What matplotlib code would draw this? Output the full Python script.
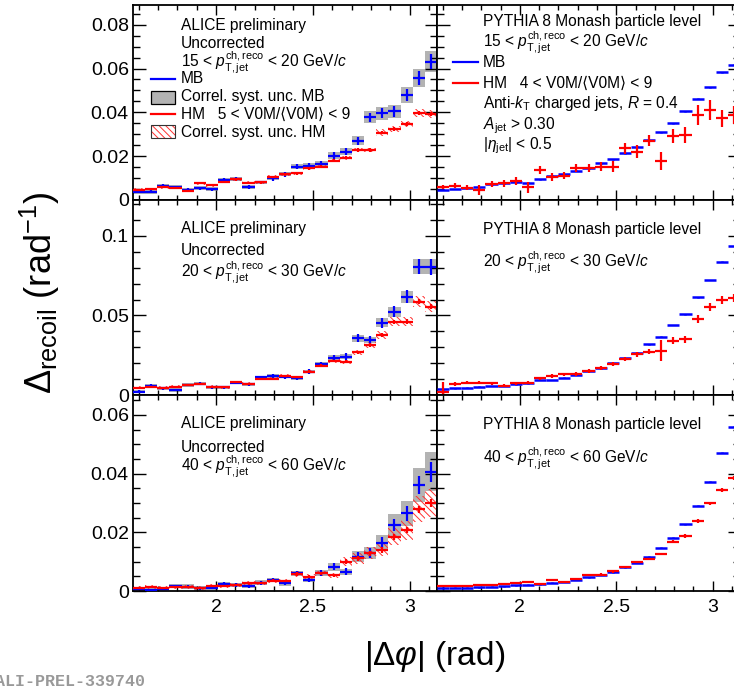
import numpy as np
import matplotlib
matplotlib.use("Agg")
import matplotlib.pyplot as plt
from matplotlib.patches import Rectangle
from matplotlib.lines import Line2D
from matplotlib.ticker import MultipleLocator, FormatStrFormatter

plt.rcParams['font.family'] = ['Liberation Sans', 'DejaVu Sans']
plt.rcParams['mathtext.fontset'] = 'custom'
plt.rcParams['mathtext.rm'] = 'Liberation Sans'
plt.rcParams['mathtext.it'] = 'Liberation Sans:italic'
plt.rcParams['mathtext.bf'] = 'Liberation Sans:bold'
plt.rcParams['hatch.linewidth'] = 0.7

# binning in |dphi|, 25 bins from pi/2 to pi
edges = np.linspace(np.pi / 2, np.pi, 26)

# ---- data, 15-20 GeV/c ----
tl_mb = [0.0038, 0.0038, 0.0065, 0.0058, 0.0046, 0.0053, 0.0049, 0.0091, 0.0096, 0.0061,
         0.0080, 0.0099, 0.0117, 0.0152, 0.0157, 0.0164, 0.0203, 0.0220, 0.0270, 0.0378,
         0.0396, 0.0404, 0.0480, 0.0556, 0.0632]
tl_mb_err = [0.0007, 0.0007, 0.0007, 0.0007, 0.0007, 0.0008, 0.0008, 0.0009, 0.0009, 0.0009,
             0.0009, 0.0010, 0.0010, 0.0012, 0.0012, 0.0013, 0.0015, 0.0016, 0.0019, 0.0021,
             0.0023, 0.0025, 0.0028, 0.0031, 0.0034]
tl_hm = [0.0046, 0.0050, 0.0058, 0.0055, 0.0043, 0.0076, 0.0068, 0.0084, 0.0094, 0.0079,
         0.0080, 0.0105, 0.0117, 0.0122, 0.0145, 0.0152, 0.0180, 0.0193, 0.0229, 0.0229,
         0.0308, 0.0323, 0.0347, 0.0396, 0.0393]
tl_hm_err = [0.0004, 0.0004, 0.0004, 0.0004, 0.0004, 0.0005, 0.0005, 0.0005, 0.0005, 0.0005,
             0.0005, 0.0006, 0.0006, 0.0006, 0.0006, 0.0007, 0.0007, 0.0007, 0.0008, 0.0008,
             0.0008, 0.0009, 0.0009, 0.0010, 0.0010]

# ---- data, 20-30 GeV/c ----
ml_mb = [0.0021, 0.0059, 0.0042, 0.0031, 0.0063, 0.0071, 0.0048, 0.0048, 0.0077, 0.0067,
         0.0111, 0.0119, 0.0115, 0.0107, 0.0147, 0.0193, 0.0235, 0.0241, 0.0357, 0.0346,
         0.0455, 0.0524, 0.0618, 0.0807, 0.0807]
ml_mb_err = [0.0008, 0.0008, 0.0008, 0.0008, 0.0008, 0.0009, 0.0009, 0.0009, 0.0010, 0.0010,
             0.0011, 0.0012, 0.0012, 0.0013, 0.0015, 0.0017, 0.0019, 0.0021, 0.0025, 0.0027,
             0.0031, 0.0035, 0.0040, 0.0048, 0.0050]
ml_hm = [0.0046, 0.0052, 0.0046, 0.0052, 0.0063, 0.0069, 0.0052, 0.0048, 0.0079, 0.0071,
         0.0101, 0.0103, 0.0121, 0.0111, 0.0147, 0.0185, 0.0214, 0.0210, 0.0268, 0.0315,
         0.0377, 0.0461, 0.0461, 0.0587, 0.0555]
ml_hm_err = [0.0005, 0.0005, 0.0005, 0.0005, 0.0005, 0.0005, 0.0005, 0.0005, 0.0006, 0.0006,
             0.0006, 0.0006, 0.0007, 0.0007, 0.0008, 0.0008, 0.0009, 0.0009, 0.0010, 0.0011,
             0.0012, 0.0013, 0.0014, 0.0015, 0.0016]

# ---- data, 40-60 GeV/c ----
bl_mb = [0.0006, 0.0003, 0.0007, 0.0017, 0.0015, 0.0009, 0.0011, 0.0024, 0.0020, 0.0017,
         0.0028, 0.0038, 0.0026, 0.0060, 0.0038, 0.0062, 0.0083, 0.0066, 0.0117, 0.0129,
         0.0165, 0.0225, 0.0265, 0.0361, 0.0407]
bl_mb_err = [0.0004, 0.0004, 0.0004, 0.0005, 0.0005, 0.0005, 0.0005, 0.0006, 0.0006, 0.0006,
             0.0007, 0.0007, 0.0007, 0.0009, 0.0009, 0.0010, 0.0012, 0.0012, 0.0015, 0.0017,
             0.0019, 0.0022, 0.0025, 0.0030, 0.0034]
bl_hm = [0.0009, 0.0015, 0.0009, 0.0015, 0.0015, 0.0011, 0.0017, 0.0017, 0.0020, 0.0026,
         0.0028, 0.0035, 0.0034, 0.0058, 0.0049, 0.0060, 0.0053, 0.0100, 0.0111, 0.0129,
         0.0140, 0.0185, 0.0208, 0.0279, 0.0299]
bl_hm_err = [0.0003, 0.0003, 0.0003, 0.0003, 0.0003, 0.0003, 0.0004, 0.0004, 0.0004, 0.0004,
             0.0004, 0.0005, 0.0005, 0.0006, 0.0006, 0.0006, 0.0006, 0.0008, 0.0008, 0.0009,
             0.0009, 0.0010, 0.0011, 0.0012, 0.0013]

# relative (and minimum) correlated syst. uncertainty per panel: (MB, HM)
syst_rel = {"tl": (0.075, 0.045), "ml": (0.06, 0.06), "bl": (0.16, 0.16)}
syst_min = {"tl": (0.0009, 0.0007), "ml": (0.0010, 0.0008), "bl": (0.0008, 0.0007)}

# ---- PYTHIA ----
tr_mb = [0.0046, 0.0050, 0.0056, 0.0058, 0.0072, 0.0076, 0.0081, 0.0079, 0.0095, 0.0111,
         0.0117, 0.0133, 0.0145, 0.0168, 0.0186, 0.0213, 0.0244, 0.0274, 0.0309, 0.0350,
         0.0404, 0.0462, 0.0515, 0.0582, 0.0617]
tr_hm = [0.0058, 0.0065, 0.0056, 0.0046, 0.0072, 0.0076, 0.0087, 0.0058, 0.0137, 0.0107,
         0.0111, 0.0145, 0.0145, 0.0152, 0.0152, 0.0236, 0.0221, 0.0271, 0.0178, 0.0292,
         0.0297, 0.0388, 0.0411, 0.0373, 0.0388]
tr_hm_err = [0.0010, 0.0012, 0.0012, 0.0022, 0.0014, 0.0016, 0.0018, 0.0026, 0.0018, 0.0018,
             0.0016, 0.0018, 0.0018, 0.0020, 0.0024, 0.0024, 0.0028, 0.0026, 0.0040, 0.0034,
             0.0036, 0.0046, 0.0044, 0.0040, 0.0042]
mr_mb = [0.0036, 0.0042, 0.0046, 0.0052, 0.0057, 0.0059, 0.0067, 0.0074, 0.0094, 0.0094,
         0.0109, 0.0126, 0.0151, 0.0168, 0.0199, 0.0231, 0.0266, 0.0319, 0.0367, 0.0440,
         0.0508, 0.0614, 0.0723, 0.0839, 0.0937]
mr_hm = [0.0021, 0.0069, 0.0077, 0.0077, 0.0074, 0.0059, 0.0074, 0.0077, 0.0105, 0.0120,
         0.0130, 0.0132, 0.0151, 0.0168, 0.0195, 0.0225, 0.0256, 0.0272, 0.0279, 0.0342,
         0.0350, 0.0476, 0.0552, 0.0598, 0.0608]
mr_hm_err = [0.0058, 0.0012, 0.0010, 0.0010, 0.0010, 0.0010, 0.0010, 0.0010, 0.0010, 0.0010,
             0.0010, 0.0010, 0.0010, 0.0012, 0.0012, 0.0014, 0.0014, 0.0016, 0.0068, 0.0022,
             0.0020, 0.0024, 0.0026, 0.0024, 0.0026]
br_mb = [0.0010, 0.0011, 0.0011, 0.0012, 0.0015, 0.0016, 0.0019, 0.0022, 0.0024, 0.0028,
         0.0032, 0.0038, 0.0047, 0.0055, 0.0065, 0.0081, 0.0097, 0.0117, 0.0148, 0.0182,
         0.0227, 0.0290, 0.0373, 0.0472, 0.0560]
br_hm = [0.0017, 0.0017, 0.0017, 0.0019, 0.0022, 0.0024, 0.0026, 0.0030, 0.0025, 0.0038,
         0.0032, 0.0040, 0.0055, 0.0056, 0.0067, 0.0082, 0.0098, 0.0109, 0.0126, 0.0168,
         0.0188, 0.0239, 0.0299, 0.0344, 0.0384]
br_hm_err = [0.0002, 0.0002, 0.0002, 0.0002, 0.0002, 0.0002, 0.0002, 0.0003, 0.0003, 0.0003,
             0.0003, 0.0003, 0.0003, 0.0004, 0.0004, 0.0004, 0.0004, 0.0005, 0.0005, 0.0005,
             0.0006, 0.0006, 0.0006, 0.0007, 0.0007]
mc_mb_err = [0.0002] * 25

ylims = [0.089, 0.1226, 0.0668]
ymajor = [0.02, 0.05, 0.02]
yminor = [0.005, 0.01, 0.005]

W, H = 734, 692
fig = plt.figure(figsize=(W / 100, H / 100), dpi=100)


def fx(x):
    return x / W


def fy(y):
    return 1 - y / H


rows_px = [(5, 200), (200, 395), (395, 591)]
axes = []
for r, (top, bot) in enumerate(rows_px):
    pair = []
    for (l, rgt) in [(133, 437), (437, 740)]:
        ax = fig.add_axes([fx(l), fy(bot), (rgt - l) / W, (bot - top) / H])
        ax.set_xlim(np.pi / 2, np.pi)
        ax.set_ylim(0, ylims[r])
        ax.xaxis.set_major_locator(MultipleLocator(0.5))
        ax.xaxis.set_minor_locator(MultipleLocator(0.1))
        ax.yaxis.set_major_locator(MultipleLocator(ymajor[r]))
        ax.yaxis.set_minor_locator(MultipleLocator(yminor[r]))
        ax.xaxis.set_major_formatter(FormatStrFormatter('%g'))
        ax.yaxis.set_major_formatter(FormatStrFormatter('%g'))
        ax.tick_params(which='both', direction='in', top=True, right=True, width=1.0)
        ax.tick_params(axis='x', which='major', length=7)
        ax.tick_params(axis='x', which='minor', length=3.6)
        ax.tick_params(axis='y', which='major', length=9)
        ax.tick_params(axis='y', which='minor', length=5)
        for s in ax.spines.values():
            s.set_linewidth(1.3)
        if r < 2:
            ax.tick_params(axis='x', labelbottom=False)
        if l > 133:
            ax.tick_params(axis='y', labelleft=False)
        ax.tick_params(axis='x', labelsize=14, pad=6)
        ax.tick_params(axis='y', labelsize=14, pad=3)
        pair.append(ax)
    axes.append(pair)

lo = edges[:-1]
wid = edges[1:] - edges[:-1]
cen = 0.5 * (edges[1:] + edges[:-1])
hw = 0.5 * wid


def draw_data(ax, key, mb, mb_err, hm, hm_err):
    mb = np.array(mb)
    hm = np.array(hm)
    s_mb = np.maximum(syst_rel[key][0] * mb, syst_min[key][0])
    s_hm = np.maximum(syst_rel[key][1] * hm, syst_min[key][1])
    ax.bar(lo, 2 * s_mb, bottom=mb - s_mb, width=wid, align='edge',
           color='#b3b3b3', edgecolor='none', zorder=1)
    ax.bar(lo, 2 * s_hm, bottom=hm - s_hm, width=wid, align='edge',
           facecolor='none', edgecolor='#ff3030', hatch='\\\\\\\\\\', linewidth=0, zorder=2)
    ax.errorbar(cen, mb, xerr=hw, yerr=mb_err, fmt='none', ecolor='#0000ff',
                elinewidth=1.6, capsize=0, zorder=3)
    ax.errorbar(cen, hm, xerr=hw, yerr=hm_err, fmt='none', ecolor='#ff0000',
                elinewidth=1.6, capsize=0, zorder=4)


def draw_mc(ax, mb, hm, hm_err):
    ax.errorbar(cen, mb, xerr=hw, yerr=mc_mb_err, fmt='none', ecolor='#0000ff',
                elinewidth=1.8, capsize=0, zorder=3)
    ax.errorbar(cen, hm, xerr=hw, yerr=hm_err, fmt='none', ecolor='#ff0000',
                elinewidth=1.6, capsize=0, zorder=4)


draw_data(axes[0][0], "tl", tl_mb, tl_mb_err, tl_hm, tl_hm_err)
draw_data(axes[1][0], "ml", ml_mb, ml_mb_err, ml_hm, ml_hm_err)
draw_data(axes[2][0], "bl", bl_mb, bl_mb_err, bl_hm, bl_hm_err)
draw_mc(axes[0][1], tr_mb, tr_hm, tr_hm_err)
draw_mc(axes[1][1], mr_mb, mr_hm, mr_hm_err)
draw_mc(axes[2][1], br_mb, br_hm, br_hm_err)

fs = 11.2


def txt(x, y, s, **kw):
    fig.text(fx(x), fy(y), s, fontsize=kw.pop('fontsize', fs), va='baseline', ha='left', **kw)


def pt(lo_, hi_):
    return r"%d < $p_{\mathrm{T,jet}}^{\mathrm{ch,reco}}$ < %d GeV/$c$" % (lo_, hi_)


# left column texts
txt(181, 30, "ALICE preliminary")
txt(181, 48.5, "Uncorrected")
txt(181, 67, pt(15, 20))
txt(181, 83, "MB")
txt(181, 101, "Correl. syst. unc. MB")
txt(181, 118.5, "HM   5 < V0M/\u27e8V0M\u27e9 < 9")
txt(181, 136.5, "Correl. syst. unc. HM")

txt(181, 233.5, "ALICE preliminary")
txt(181, 255.5, "Uncorrected")
txt(181, 278, pt(20, 30))

txt(181, 428.5, "ALICE preliminary")
txt(181, 451.5, "Uncorrected")
txt(181, 472, pt(40, 60))

# right column texts
txt(483, 26, "PYTHIA 8 Monash particle level")
txt(483, 47, pt(15, 20))
txt(483, 67, "MB")
txt(483, 88, "HM   4 < V0M/\u27e8V0M\u27e9 < 9")
txt(483, 108, r"Anti-$k_{\mathrm{T}}$ charged jets, $R$ = 0.4")
txt(483, 129, r"$A_{\mathrm{jet}}$ > 0.30")
txt(483, 149, r"|$\eta_{\mathrm{jet}}$| < 0.5")

txt(483, 234.5, "PYTHIA 8 Monash particle level")
txt(483, 268, pt(20, 30))

txt(483, 429.5, "PYTHIA 8 Monash particle level")
txt(483, 463, pt(40, 60))

# legend symbols
for (x0, x1, y, c) in [(151, 175, 79, '#0000ff'), (151, 175, 114, '#ff0000'),
                       (453, 478, 62, '#0000ff'), (453, 478, 83, '#ff0000')]:
    fig.add_artist(Line2D([fx(x0), fx(x1)], [fy(y), fy(y)], color=c, lw=1.6,
                          transform=fig.transFigure))
fig.add_artist(Rectangle((fx(151), fy(104)), (175 - 151) / W, 13 / H, transform=fig.transFigure,
                         facecolor='#b3b3b3', edgecolor='black', lw=0.9))
fig.add_artist(Rectangle((fx(151), fy(138)), (175 - 151) / W, 13 / H, transform=fig.transFigure,
                         facecolor='white', edgecolor='#ff3030', hatch='\\\\\\\\\\', lw=0))
fig.add_artist(Rectangle((fx(151), fy(138)), (175 - 151) / W, 13 / H, transform=fig.transFigure,
                         facecolor='none', edgecolor='#333333', lw=0.8))

# axis titles
fig.text(fx(40), fy(293), r"$\Delta_{\mathrm{recoil}}$ (rad$^{-1}$)", rotation=90,
         fontsize=26, ha='center', va='center')
fig.text(fx(435), fy(656), r"|$\Delta\varphi$| (rad)", fontsize=24, ha='center', va='center')

fig.text(fx(-5), fy(681), "ALI-PREL-339740", fontsize=12, family='Liberation Mono',
         weight='bold', color='#999999', ha='left', va='center')

fig.savefig("out.png", dpi=100)
